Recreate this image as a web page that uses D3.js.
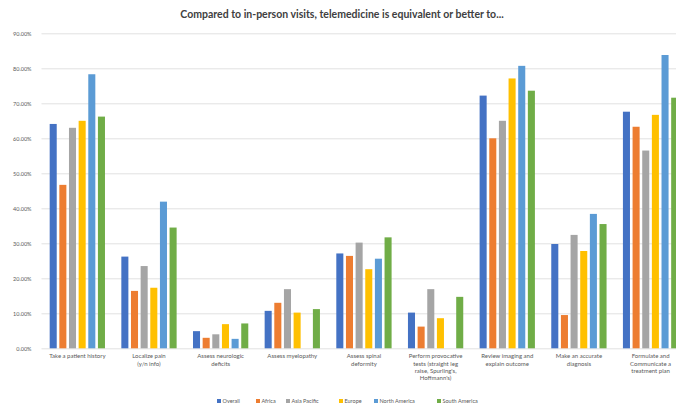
<!DOCTYPE html>
<html>
<head>
<meta charset="utf-8">
<script src="https://cdn.jsdelivr.net/npm/d3@7/dist/d3.min.js"></script>
<style>
  html, body { margin: 0; padding: 0; background: #fff; overflow: hidden; }
  svg { display: block; font-family: Lato, "Open Sans", sans-serif; }
</style>
</head>
<body>
<svg id="chart" width="676" height="408"></svg>
<script>
// Chart content
const title = "Compared to in-person visits, telemedicine is equivalent or better to...";

// A non-breaking space keeps "(y/n info)" together on one line
const categories = [
  "Take a patient history",
  "Localize pain (y/n\u00a0info)",
  "Assess neurologic deficits",
  "Assess myelopathy",
  "Assess spinal deformity",
  "Perform provocative tests (straight leg raise, Spurling's, Hoffmann's)",
  "Review imaging and explain outcome",
  "Make an accurate diagnosis",
  "Formulate and Communicate a treatment plan"
];

const seriesNames = ["Overall", "Africa", "Asia Pacific", "Europe", "North America", "South America"];

// Percentage of respondents per category
const overall      = [64.1, 26.2, 4.9, 10.7, 27.1, 10.2, 72.2, 29.8, 67.6];
const africa       = [46.7, 16.4, 3.0, 13.0, 26.4,  6.2, 60.0,  9.5, 63.3];
const asiaPacific  = [63.0, 23.5, 4.0, 16.9, 30.2, 16.9, 65.0, 32.4, 56.5];
const europe       = [65.0, 17.3, 6.9, 10.2, 22.6,  8.6, 77.1, 27.8, 66.7];
const northAmerica = [78.3, 41.9, 2.7,  0.0, 25.6,  0.0, 80.7, 38.4, 83.8];
const southAmerica = [66.2, 34.5, 7.1, 11.2, 31.7, 14.7, 73.6, 35.5, 71.6];

const yTicks = [0, 10, 20, 30, 40, 50, 60, 70, 80, 90];

const seriesValues = [overall, africa, asiaPacific, europe, northAmerica, southAmerica];
const colors = ["#4472C4", "#ED7D31", "#A5A5A5", "#FFC000", "#5B9BD5", "#70AD47"];

const svg = d3.select("#chart");

// Plot area (the right side runs past the visible frame)
const plotLeft = 41.5, plotRight = 686.4, plotTop = 33.3, plotBottom = 348.3;

const x0 = d3.scaleBand()
  .domain(categories)
  .range([plotLeft, plotRight])
  .paddingInner(0.192)
  .paddingOuter(0.096);

const x1 = d3.scaleBand()
  .domain(seriesNames)
  .range([0, x0.bandwidth()])
  .paddingInner(0.27)
  .paddingOuter(0.135);

const y = d3.scaleLinear()
  .domain([0, 90])
  .range([plotBottom, plotTop]);

const color = d3.scaleOrdinal().domain(seriesNames).range(colors);

// Gridlines and value axis labels
const yAxis = d3.axisLeft(y)
  .tickValues(yTicks)
  .tickSize(-(plotRight - plotLeft))
  .tickPadding(8)
  .tickFormat(d => d.toFixed(2) + "%");

const gy = svg.append("g")
  .attr("transform", `translate(${plotLeft},0)`)
  .call(yAxis);
gy.select(".domain").remove();
gy.selectAll(".tick line").attr("stroke", "#d9d9d9").attr("stroke-width", 0.8);
gy.selectAll(".tick text")
  .attr("fill", "#595959")
  .attr("font-size", 5.5)
  .attr("x", -10)
  .style("font-family", "Lato, sans-serif");

// Bars
const rows = categories.map((c, i) => ({
  category: c,
  values: seriesNames.map((s, k) => ({ series: s, value: seriesValues[k][i] }))
}));

const groups = svg.append("g")
  .selectAll("g")
  .data(rows)
  .join("g")
  .attr("transform", d => `translate(${x0(d.category)},0)`);

groups.selectAll("rect")
  .data(d => d.values.filter(v => v.value > 0))
  .join("rect")
  .attr("x", d => x1(d.series))
  .attr("y", d => y(d.value))
  .attr("width", x1.bandwidth())
  .attr("height", d => y(0) - y(d.value))
  .attr("fill", d => color(d.series));

// Category labels, wrapped to the width of a category slot
const xAxis = d3.axisBottom(x0).tickSize(0).tickPadding(0);
const gx = svg.append("g")
  .attr("transform", `translate(0,${plotBottom})`)
  .call(xAxis);
gx.select(".domain").remove();
gx.selectAll(".tick text")
  .attr("fill", "#595959")
  .attr("font-size", 6)
  .attr("dy", null)
  .style("font-family", "Lato, sans-serif")
  .each(function (d) {
    const text = d3.select(this);
    const words = d.split(" ");
    const maxWidth = 58;
    const lineHeight = 7.4;
    const firstLine = 10;
    text.text(null);
    let line = [];
    let lineNo = 0;
    let tspan = text.append("tspan").attr("x", 0).attr("y", firstLine);
    words.forEach(w => {
      line.push(w);
      tspan.text(line.join(" "));
      if (tspan.node().getComputedTextLength() > maxWidth && line.length > 1) {
        line.pop();
        tspan.text(line.join(" "));
        line = [w];
        lineNo += 1;
        tspan = text.append("tspan").attr("x", 0)
          .attr("y", firstLine + lineNo * lineHeight).text(w);
      }
    });
  });

// Title
svg.append("text")
  .attr("x", 342)
  .attr("y", 18)
  .attr("text-anchor", "middle")
  .attr("font-size", 10.5)
  .attr("font-weight", "bold")
  .attr("fill", "#404040")
  .text(title);

// Legend
const legendX = [217, 256, 286, 339, 374, 437];
const legend = svg.append("g")
  .selectAll("g")
  .data(seriesNames)
  .join("g")
  .attr("transform", (d, i) => `translate(${legendX[i]},401)`);
legend.append("rect")
  .attr("x", 0).attr("y", -2)
  .attr("width", 4).attr("height", 4)
  .attr("fill", d => color(d));
legend.append("text")
  .attr("x", 5.5).attr("y", 2)
  .attr("font-size", 5.5)
  .attr("fill", "#595959")
  .text(d => d);
</script>
</body>
</html>
